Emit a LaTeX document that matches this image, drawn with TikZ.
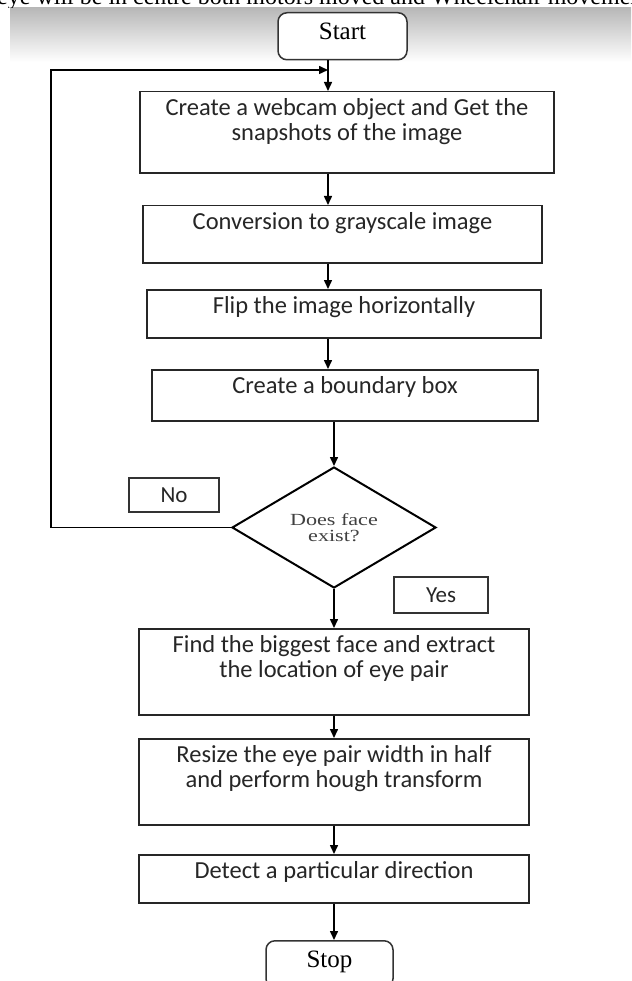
\documentclass[tikz,border=0pt]{standalone}
\usepackage{fontspec}
\setmainfont{Liberation Serif}
\newfontfamily\calib{Carlito}
\newfontfamily\larga[FakeStretch=1.3]{Liberation Serif}
\usetikzlibrary{shapes.geometric, arrows.meta, calc}

\begin{document}
\begin{tikzpicture}[x = 1pt, y = -1pt,
    passo/.style = {draw = black!85, line width = 1.5pt, fill = white, anchor = north, inner xsep = 4pt, inner ysep = 7pt, align = center, text = black!85, font = \calib\fontsize{24.5}{25}\selectfont},
    estremo/.style = {draw = black!80, line width = 1.5pt, rounded corners = 9pt, fill = white, anchor = north, inner ysep = 10pt, text height = 17pt, text depth = 10pt, font = \fontsize{25}{28}\selectfont},
    domanda/.style = {diamond, draw, line width = 2pt, inner sep = 0pt, minimum width = 204pt, minimum height = 121pt, align = center, text = black!75, font = \larga\fontsize{17}{16}\selectfont},
    etichetta/.style = {draw = black!80, line width = 1.4pt, inner sep = 0pt, text = black!85, font = \calib\fontsize{23}{24}\selectfont},
    freccia/.style = {line width = 1.5pt, -{Triangle[length = 9pt, width = 8pt]}}]
    % Cornice
    \clip (0,0) rectangle (631,981);
    \shade[top color = black!28, bottom color = white] (10,8) rectangle (631,62);
    \begin{scope}
        \clip (0,0) rectangle (631,8);
        \node[anchor = base west, inner sep = 0pt, font = \fontsize{24}{24}\selectfont] (riga) at (-3,5) {eye will be in centre both motors moved and Wheelchair movement};
    \end{scope}
    % Assi
    \coordinate (asseA) at (328,0);
    \coordinate (asseB) at (334,0);
    \coordinate (sinistra) at (51,0);
    \coordinate (giunto) at (328,70);
    % Blocchi
    \node[estremo, minimum width = 129pt] (start) at (342.5,12) {Start};
    \node[passo, minimum width = 414pt, text depth = 25pt] (webcam) at (347,91) {Create a webcam object and Get the\\snapshots of the image};
    \node[passo, minimum width = 399pt, text depth = 26pt] (grigio) at (342.5,205) {Conversion to grayscale image};
    \node[passo, minimum width = 394pt, text depth = 17pt] (flip) at (344,289) {Flip the image horizontally};
    \node[passo, minimum width = 386pt, text depth = 20pt] (bordo) at (345,369) {Create a boundary box};
    \node[domanda] (faccia) at (334,527.5) {Does face\\exist?};
    \node[etichetta, minimum width = 90pt, minimum height = 34pt] (no) at (174,495) {No};
    \node[etichetta, minimum width = 94pt, minimum height = 36pt] (si) at (441,595) {Yes};
    \node[passo, minimum width = 390pt, text depth = 30pt] (occhi) at (334,628) {Find the biggest face and extract\\the location of eye pair};
    \node[passo, minimum width = 390pt, text depth = 30pt] (hough) at (334,738) {Resize the eye pair width in half\\and perform hough transform};
    \node[passo, minimum width = 390pt, text depth = 17pt] (direzione) at (334,854) {Detect a particular direction};
    \node[estremo, minimum width = 127pt] (stop) at (329.5,940) {Stop};
    % Frecce
    \draw[freccia] (start.south -| asseA) -- (webcam.north -| asseA);
    \draw[freccia] (webcam.south -| asseA) -- (grigio.north -| asseA);
    \draw[freccia] (grigio.south -| asseA) -- (flip.north -| asseA);
    \draw[freccia] (flip.south -| asseA) -- (bordo.north -| asseA);
    \draw[freccia] (bordo.south -| asseB) -- (faccia.north);
    \draw[freccia] (faccia.west) -- (faccia.west -| sinistra) |- (giunto);
    \draw[freccia] (faccia.south) -- (occhi.north -| asseB);
    \draw[freccia] (occhi.south -| asseB) -- (hough.north -| asseB);
    \draw[freccia] (hough.south -| asseB) -- (direzione.north -| asseB);
    \draw[freccia] (direzione.south -| asseB) -- (stop.north -| asseB);
\end{tikzpicture}
\end{document}
